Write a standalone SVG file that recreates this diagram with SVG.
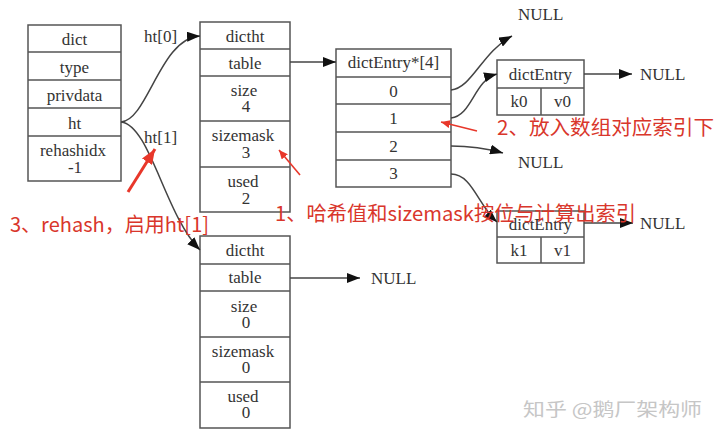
<svg xmlns="http://www.w3.org/2000/svg" width="720" height="439" viewBox="0 0 720 439">
<defs>
<style>
.box{fill:#fff;stroke:#555;stroke-width:1.5}
.ln{stroke:#555;stroke-width:1.5}
.t{font-family:"Liberation Serif","Times New Roman",serif;font-size:17px;fill:#333;text-anchor:middle}
.tl{font-family:"Liberation Serif","Times New Roman",serif;font-size:17px;fill:#333}
.edge{fill:none;stroke:#444;stroke-width:1.5}
.red{font-family:"Noto Sans CJK SC","Liberation Sans",sans-serif;font-size:20px;fill:#d9362b}
.redln{fill:none;stroke:#e8372a}
.wm{font-family:"Noto Sans CJK SC",sans-serif;font-size:18px;fill:#c6c6c6}
</style>
<marker id="ah" markerUnits="userSpaceOnUse" markerWidth="14" markerHeight="10" refX="13" refY="5" orient="auto">
<path d="M0,0 L13,5 L0,10 Z" fill="#111"/>
</marker>
<marker id="rh" markerUnits="userSpaceOnUse" markerWidth="10" markerHeight="8" refX="9" refY="4" orient="auto">
<path d="M0,0 L9,4 L0,8 Z" fill="#e8372a"/>
</marker>
<marker id="rh2" markerUnits="userSpaceOnUse" markerWidth="16" markerHeight="12" refX="15" refY="6" orient="auto">
<path d="M0,0 L15,6 L0,12 Z" fill="#e8372a"/>
</marker>
</defs>
<rect width="720" height="439" fill="#fff"/>

<g id="dict">
<rect class="box" x="28" y="25" width="93" height="156"/>
<line class="ln" x1="28" y1="52" x2="121" y2="52"/>
<line class="ln" x1="28" y1="80" x2="121" y2="80"/>
<line class="ln" x1="28" y1="108" x2="121" y2="108"/>
<line class="ln" x1="28" y1="136" x2="121" y2="136"/>
<text class="t" x="74.5" y="45">dict</text>
<text class="t" x="74.5" y="73">type</text>
<text class="t" x="74.5" y="101">privdata</text>
<text class="t" x="74.5" y="129">ht</text>
<text class="t" x="73" y="156">rehashidx</text>
<text class="t" x="75" y="173">-1</text>
</g>

<g id="dictht0">
<rect class="box" x="200" y="22" width="90" height="190"/>
<line class="ln" x1="200" y1="49" x2="290" y2="49"/>
<line class="ln" x1="200" y1="76" x2="290" y2="76"/>
<line class="ln" x1="200" y1="121" x2="290" y2="121"/>
<line class="ln" x1="200" y1="167" x2="290" y2="167"/>
<text class="t" x="245" y="42">dictht</text>
<text class="t" x="245" y="69">table</text>
<text class="t" x="244" y="96">size</text>
<text class="t" x="246" y="112">4</text>
<text class="t" x="243" y="141">sizemask</text>
<text class="t" x="246" y="158">3</text>
<text class="t" x="243" y="187">used</text>
<text class="t" x="246" y="204">2</text>
</g>

<g id="dictht1">
<rect class="box" x="200" y="236" width="90" height="192"/>
<line class="ln" x1="200" y1="264" x2="290" y2="264"/>
<line class="ln" x1="200" y1="291" x2="290" y2="291"/>
<line class="ln" x1="200" y1="337" x2="290" y2="337"/>
<line class="ln" x1="200" y1="382" x2="290" y2="382"/>
<text class="t" x="245" y="256">dictht</text>
<text class="t" x="245" y="283">table</text>
<text class="t" x="244" y="312">size</text>
<text class="t" x="246" y="328">0</text>
<text class="t" x="243" y="357">sizemask</text>
<text class="t" x="246" y="373">0</text>
<text class="t" x="243" y="402">used</text>
<text class="t" x="246" y="418">0</text>
</g>

<g id="table4">
<rect class="box" x="336" y="49" width="115" height="138"/>
<line class="ln" x1="336" y1="77" x2="451" y2="77"/>
<line class="ln" x1="336" y1="104" x2="451" y2="104"/>
<line class="ln" x1="336" y1="132" x2="451" y2="132"/>
<line class="ln" x1="336" y1="160" x2="451" y2="160"/>
<text class="t" x="393.5" y="68">dictEntry*[4]</text>
<text class="t" x="393.5" y="97">0</text>
<text class="t" x="393.5" y="124">1</text>
<text class="t" x="393.5" y="152">2</text>
<text class="t" x="393.5" y="179">3</text>
</g>

<g id="entry0">
<rect class="box" x="497" y="60" width="87" height="55"/>
<line class="ln" x1="497" y1="88" x2="584" y2="88"/>
<line class="ln" x1="541" y1="88" x2="541" y2="115"/>
<text class="t" x="540.5" y="80">dictEntry</text>
<text class="t" x="519" y="107">k0</text>
<text class="t" x="562.5" y="107">v0</text>
</g>

<g id="entry1">
<rect class="box" x="497" y="211" width="87" height="52"/>
<line class="ln" x1="497" y1="237" x2="584" y2="237"/>
<line class="ln" x1="541" y1="237" x2="541" y2="263"/>
<text class="t" x="540.5" y="230">dictEntry</text>
<text class="t" x="519" y="256">k1</text>
<text class="t" x="562.5" y="256">v1</text>
</g>

<g id="nulls">
<text class="tl" x="518" y="20">NULL</text>
<text class="tl" x="640" y="80">NULL</text>
<text class="tl" x="518" y="168">NULL</text>
<text class="tl" x="640" y="229">NULL</text>
<text class="tl" x="371" y="284">NULL</text>
</g>

<g id="labels">
<text class="tl" x="144" y="42">ht[0]</text>
<text class="tl" x="144" y="143">ht[1]</text>
</g>

<g id="connectors">
<path class="edge" d="M121,122 C148,120 160,38 200,36" marker-end="url(#ah)"/>
<path class="edge" d="M121,122 C150,125 165,215 200,250" marker-end="url(#ah)"/>
<path class="edge" d="M290,62 L336,62" marker-end="url(#ah)"/>
<path class="edge" d="M290,278 L360,278" marker-end="url(#ah)"/>
<path class="edge" d="M451,90 C472,88 482,52 512,36" marker-end="url(#ah)"/>
<path class="edge" d="M451,118 C472,116 474,80 497,74" marker-end="url(#ah)"/>
<path class="edge" d="M451,146 C472,146 485,148 503,153" marker-end="url(#ah)"/>
<path class="edge" d="M451,174 C472,174 478,205 497,222" marker-end="url(#ah)"/>
<path class="edge" d="M584,74 L632,74" marker-end="url(#ah)"/>
<path class="edge" d="M584,223 L633,223" marker-end="url(#ah)"/>
</g>

<g id="annotations">
<path class="redln" stroke-width="1.6" d="M300,175 L279,150" marker-end="url(#rh)"/>
<path class="redln" stroke-width="1.6" d="M477,131 L441,122" marker-end="url(#rh)"/>
<path class="redln" stroke-width="3" d="M128,192 L155,149" marker-end="url(#rh2)"/>
<text class="red" x="275" y="221" textLength="361" lengthAdjust="spacingAndGlyphs">1、哈希值和sizemask按位与计算出索引</text>
<text class="red" x="497" y="135" textLength="217" lengthAdjust="spacingAndGlyphs">2、放入数组对应索引下</text>
<text class="red" x="10" y="232" textLength="199" lengthAdjust="spacingAndGlyphs">3、rehash，启用ht[1]</text>
</g>

<text class="wm" x="523" y="416" textLength="179" lengthAdjust="spacingAndGlyphs">知乎 @鹅厂架构师</text>
</svg>
